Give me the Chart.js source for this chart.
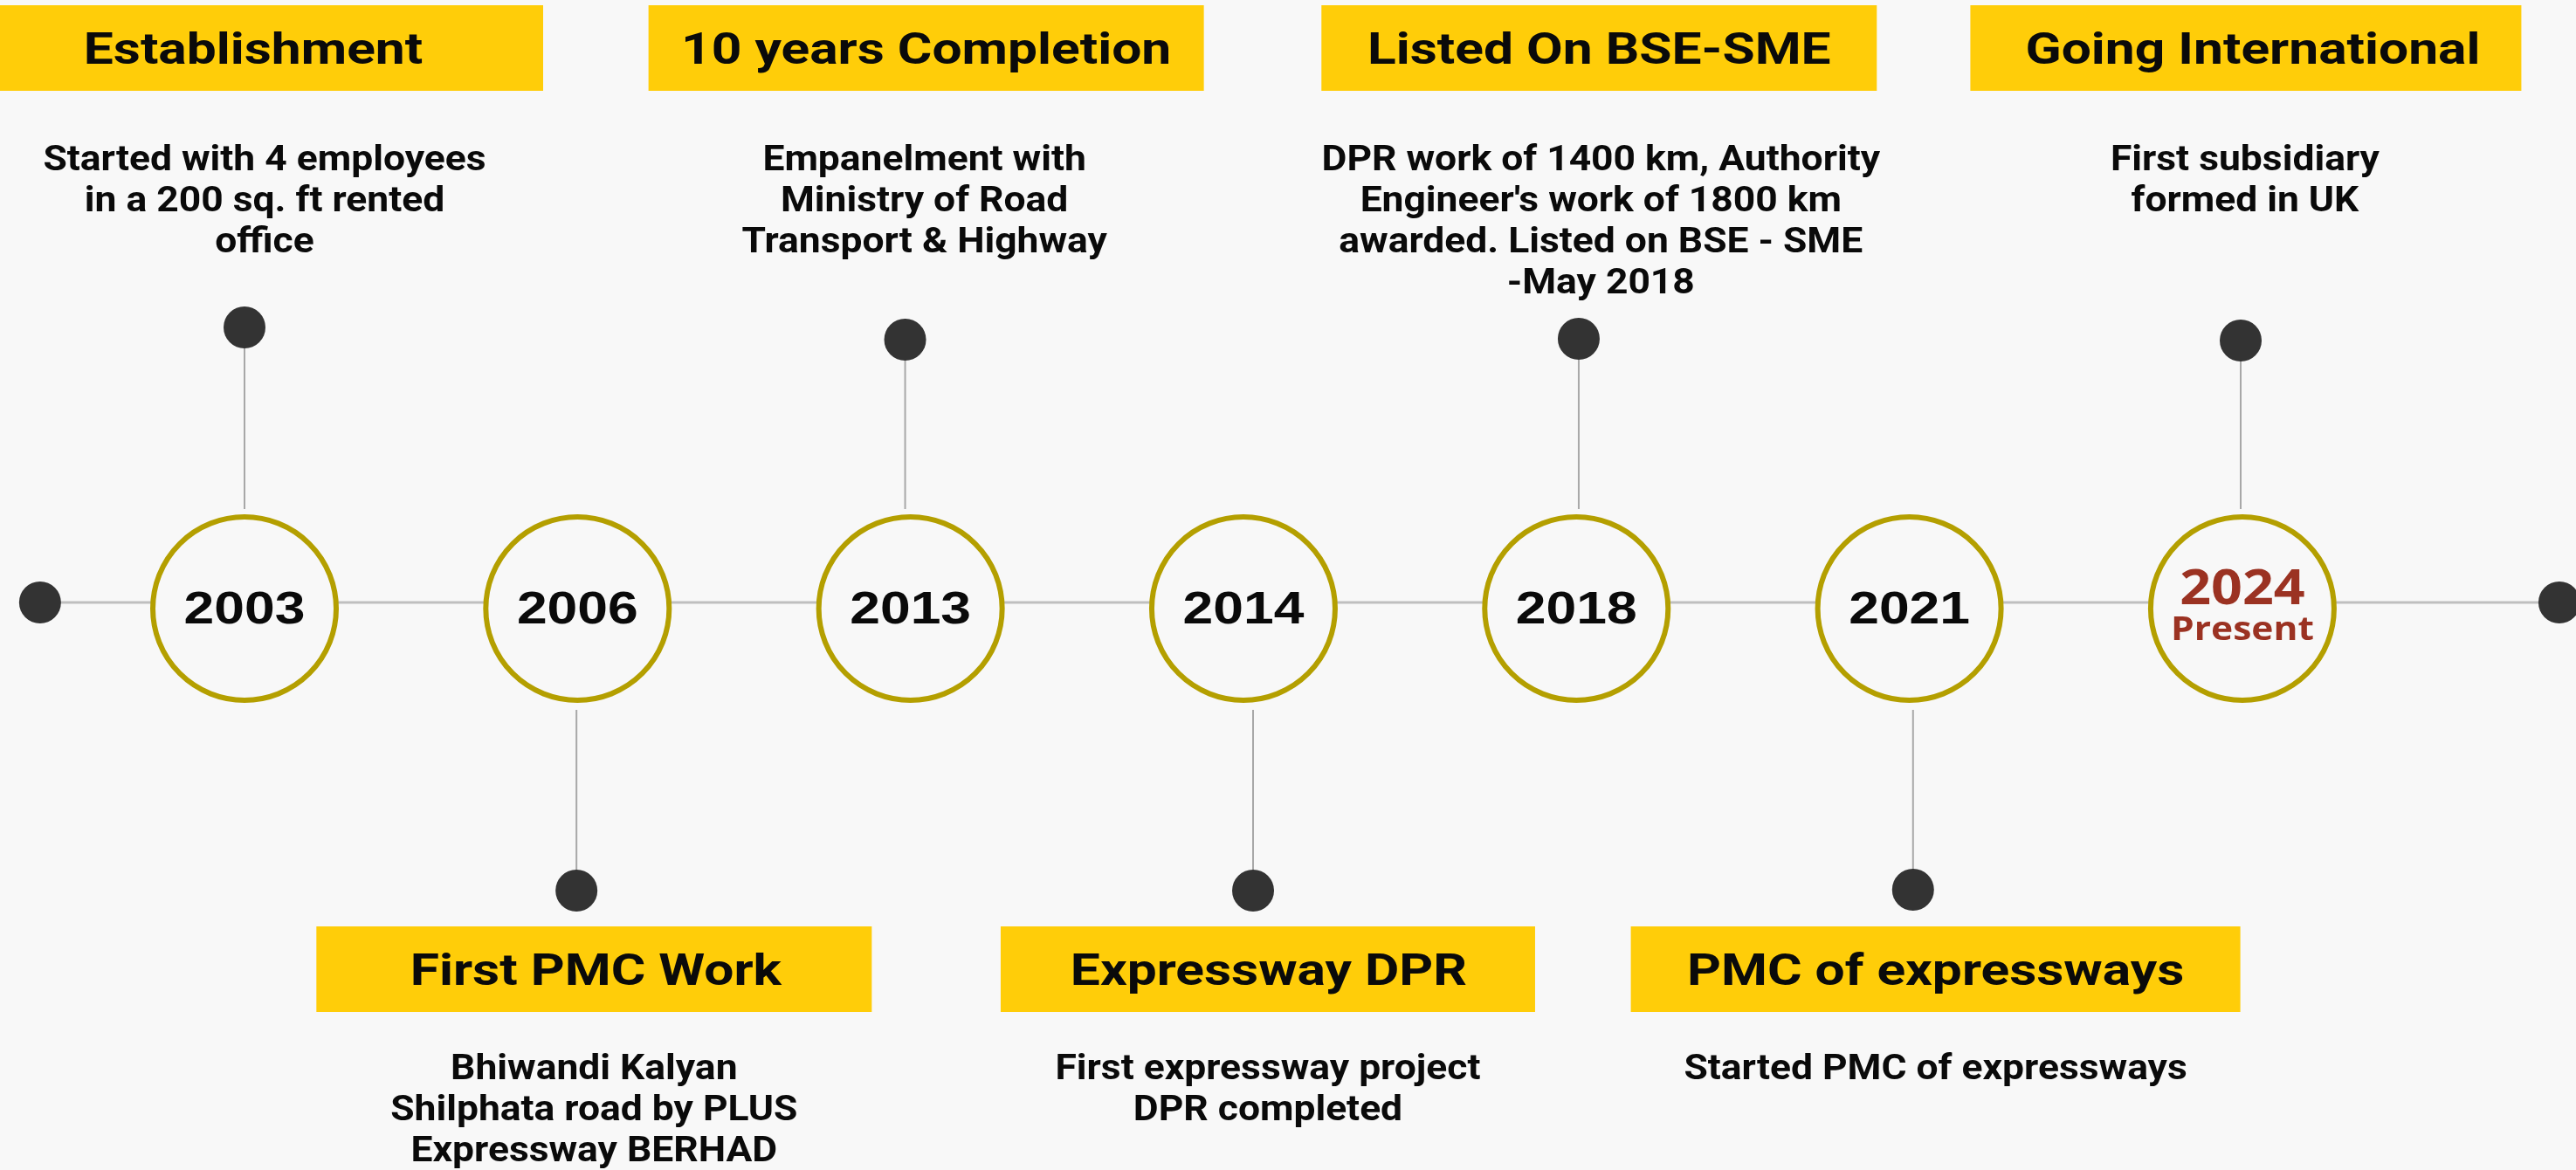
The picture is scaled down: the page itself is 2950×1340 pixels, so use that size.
<!DOCTYPE html>
<html><head><meta charset="utf-8">
<script src="https://cdn.jsdelivr.net/npm/chart.js@4.4.1/dist/chart.umd.min.js"></script>
<style>
html,body{margin:0;padding:0;background:#f8f8f8;}
#wrap{width:2950px;height:1340px;position:relative;}
</style></head><body>
<div id="wrap"><canvas id="c"></canvas></div>
<script>
// ---- data ----
const years = ['2003','2006','2013','2014','2018','2021','2024'];
const yearSub = ['','','','','','','Present'];
const slots = [1,2,3,4,5,6,7];
const sides = ['up','down','up','down','up','down','up'];
const titles = ['Establishment','First PMC Work','10 years Completion','Expressway DPR','Listed On BSE-SME','PMC of expressways','Going International'];
const descriptions = [
  ['Started with 4 employees','in a 200 sq. ft rented','office'],
  ['Bhiwandi Kalyan','Shilphata road by PLUS','Expressway BERHAD'],
  ['Empanelment with','Ministry of Road','Transport & Highway'],
  ['First expressway project','DPR completed'],
  ['DPR work of 1400 km, Authority',"Engineer's work of 1800 km",'awarded. Listed on BSE - SME','-May 2018'],
  ['Started PMC of expressways'],
  ['First subsidiary','formed in UK']
];
const timelineEnds = [0.386, 7.952];

// ---- layout / style ----
const L = {
  xMin: 0.2657, xMax: 8.002, yMin: -6.5, yMax: 6.9,
  circleY: -0.07, circleR: 105, circleBorder: 6,
  dotR: 24,
  stemOffset: [0, -0.003, -0.016, 0.029, 0.007, 0.011, -0.005],
  stemDotY: [3.15, -3.30, 3.01, -3.30, 3.02, -3.29, 3.00],
  stemEnd: {up: 1.07, down: -1.23},
  bannerDx: [24, 19, 18, 28, 26, 30, 4],
  bannerW: [636, 636, 636, 612, 636, 698, 631],
  titleDx: [-14, 2, 0, 1, 0, 0, 8],
  descDx: [23, 19, 16, 28, 28, 30, 3],
  banner: {up: [6.84, 5.86], down: [-3.71, -4.69]},
  descFirst: {up: 4.95, down: -5.46},
  descStep: 47,
  colors: {bg:'#f8f8f8', yellow:'#ffcd09', ring:'#b49f00', dot:'#333333', line:'#bfbfbf', stem:'#a8a8a8', text:'#0a0a0a', present:'#9b3222'},
  fonts: {
    banner: '700 50px Roboto', bannerSx: 1.21,
    desc: '700 40px Roboto', descSx: 1.11,
    year: '700 52px "Liberation Sans"', yearSx: 1.2,
    present: '700 56px "Open Sans"', presentSub: '700 38px "Open Sans"', presentSx: 1.12
  }
};

function drawText(ctx, text, cx, baseline, font, color, sx){
  ctx.save();
  ctx.font = font;
  ctx.fillStyle = color;
  ctx.textAlign = 'center';
  ctx.textBaseline = 'alphabetic';
  ctx.translate(cx, baseline);
  ctx.scale(sx, 1);
  ctx.fillText(text, 0, 0);
  ctx.restore();
}

const timelinePlugin = {
  id: 'timelineText',
  beforeDatasetsDraw(chart){
    const ctx = chart.ctx, xs = chart.scales.x, ys = chart.scales.y;
    slots.forEach((s, i) => {
      const side = sides[i];
      const cx = xs.getPixelForValue(s);
      const top = ys.getPixelForValue(L.banner[side][0]);
      const bot = ys.getPixelForValue(L.banner[side][1]);
      const bcx = cx + L.bannerDx[i];
      ctx.save();
      ctx.fillStyle = L.colors.yellow;
      ctx.fillRect(bcx - L.bannerW[i]/2, top, L.bannerW[i], bot - top);
      ctx.restore();
      drawText(ctx, titles[i], bcx + L.titleDx[i], (top + bot)/2 + 18, L.fonts.banner, L.colors.text, L.fonts.bannerSx);
      const y0 = ys.getPixelForValue(L.descFirst[side]);
      descriptions[i].forEach((line, k) => {
        drawText(ctx, line, cx + L.descDx[i], y0 + k*L.descStep, L.fonts.desc, L.colors.text, L.fonts.descSx);
      });
    });
  },
  afterDatasetsDraw(chart){
    const ctx = chart.ctx, xs = chart.scales.x, ys = chart.scales.y;
    slots.forEach((s, i) => {
      const cx = xs.getPixelForValue(s);
      const cy = ys.getPixelForValue(L.circleY);
      if (yearSub[i]) {
        drawText(ctx, years[i], cx, cy - 5, L.fonts.present, L.colors.present, L.fonts.presentSx);
        drawText(ctx, yearSub[i], cx, cy + 36, L.fonts.presentSub, L.colors.present, L.fonts.presentSx);
      } else {
        drawText(ctx, years[i], cx, cy + 17, L.fonts.year, L.colors.text, L.fonts.yearSx);
      }
    });
  }
};

const stemSets = slots.map((s, i) => ({
  label: 'stem ' + years[i],
  data: [{x: s + L.stemOffset[i], y: L.stemDotY[i]}, {x: s + L.stemOffset[i], y: L.stemEnd[sides[i]]}],
  showLine: true, borderColor: L.colors.stem, borderWidth: 2, pointRadius: 0, order: 3, clip: false
}));

const datasets = [
  {label: 'years', data: slots.map(s => ({x: s, y: L.circleY})),
   pointRadius: L.circleR, pointBorderWidth: L.circleBorder,
   pointBackgroundColor: L.colors.bg, pointBorderColor: L.colors.ring, order: 0, clip: false},
  {label: 'event dots', data: slots.map((s, i) => ({x: s + L.stemOffset[i], y: L.stemDotY[i]})),
   pointRadius: L.dotR, pointBorderWidth: 0, pointBackgroundColor: L.colors.dot, order: 1, clip: false},
  {label: 'ends', data: timelineEnds.map(x => ({x, y: 0})),
   pointRadius: L.dotR, pointBorderWidth: 0, pointBackgroundColor: L.colors.dot, order: 1, clip: false},
  {label: 'timeline', data: timelineEnds.map(x => ({x, y: 0})),
   showLine: true, borderColor: L.colors.line, borderWidth: 3, pointRadius: 0, order: 4, clip: false},
  ...stemSets
];

new Chart(document.getElementById('c'), {
  type: 'scatter',
  data: {datasets},
  options: {
    responsive: true, maintainAspectRatio: false, animation: false, events: [],
    layout: {padding: 0, autoPadding: false},
    plugins: {legend: {display: false}, tooltip: {enabled: false}, title: {display: false}},
    scales: {
      x: {type: 'linear', min: L.xMin, max: L.xMax, display: false},
      y: {type: 'linear', min: L.yMin, max: L.yMax, display: false}
    }
  },
  plugins: [timelinePlugin]
});
</script>
</body></html>
